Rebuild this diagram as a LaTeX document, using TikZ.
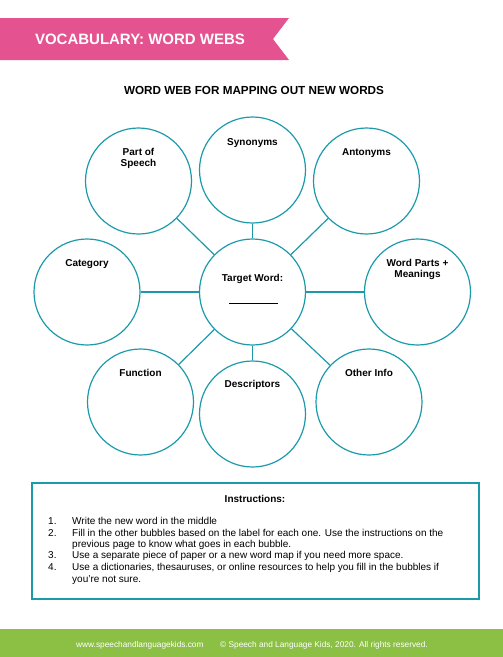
\documentclass[tikz,border=0pt]{standalone}
\usepackage{fontspec}
\setmainfont{Liberation Sans}
\definecolor{bannerpink}{HTML}{E55290}
\definecolor{webteal}{HTML}{1B9AAA}
\definecolor{footgreen}{HTML}{8BC045}
\begin{document}
\begin{tikzpicture}[x=1pt,y=-1pt,
  bubble/.style={circle,draw=webteal,line width=1.2pt,minimum size=106pt,inner sep=0pt},
  conn/.style={draw=webteal,line width=1.2pt},
  lbl/.style={font=\fontsize{10}{12}\selectfont\bfseries,anchor=base,inner sep=0pt},
  itxt/.style={font=\fontsize{10}{12}\selectfont,anchor=base west,inner sep=0pt},
  foot/.style={font=\fontsize{8.3}{10}\selectfont,text=white,anchor=base west,inner sep=0pt}]
\useasboundingbox (0,0) rectangle (503,657);
% banner
\fill[bannerpink] (0,18) -- (289,18) -- (273,39) -- (289,60) -- (0,60) -- cycle;
\node[text=white,font=\fontsize{15}{18}\selectfont\bfseries,anchor=base,inner sep=0pt] (banner) at (140,44.5) {VOCABULARY: WORD WEBS};
% title
\node[font=\fontsize{11.7}{14}\selectfont\bfseries,anchor=base,inner sep=0pt] (title) at (254,94.5) {WORD WEB FOR MAPPING OUT NEW WORDS};
% bubbles
\node[bubble] (target) at (252.5,292) {};
\node[bubble] (pos) at (138.5,181) {};
\node[bubble] (syn) at (252.5,170) {};
\node[bubble] (ant) at (366.5,181) {};
\node[bubble] (cat) at (87,292) {};
\node[bubble] (wp) at (417.5,292) {};
\node[bubble] (fun) at (140.5,402) {};
\node[bubble] (des) at (252.5,414) {};
\node[bubble] (oth) at (369,402) {};
% connectors
\foreach \b in {pos,syn,ant,cat,wp,fun,des,oth} \draw[conn] (target) -- (\b);
% labels
\node[lbl] (lpos1) at (138.5,155.3) {Part of};
\node[lbl] (lpos2) at (138.5,166.9) {Speech};
\node[lbl] (lsyn) at (252.5,145.3) {Synonyms};
\node[lbl] (lant) at (366.5,155.3) {Antonyms};
\node[lbl] (lcat) at (87,266.3) {Category};
\node[lbl] (ltar) at (252.5,281.3) {Target Word:};
\node[lbl] (ltarline) at (253.5,304) {\rule{49pt}{0.9pt}};
\node[lbl] (lwp1) at (417.5,266.3) {Word Parts +};
\node[lbl] (lwp2) at (417.5,277.9) {Meanings};
\node[lbl] (lfun) at (140.5,376.9) {Function};
\node[lbl] (ldes) at (252.5,387.9) {Descriptors};
\node[lbl] (loth) at (369,376.9) {Other Info};
% instructions box
\node[draw=webteal,line width=1.5pt,minimum width=447pt,minimum height=116pt,anchor=north west,inner sep=0pt] (box) at (31,482) {};
\node[lbl] (ihead) at (255,502.5) {Instructions:};
\node[itxt] (n1) at (48,524.6) {1.};
\node[itxt] (t1) at (72,524.6) {Write the new word in the middle};
\node[itxt] (n2) at (48,536.3) {2.};
\node[itxt] (t2a) at (72,536.3) {Fill in the other bubbles based on the label for each one. Use the instructions on the};
\node[itxt] (t2b) at (72,547.9) {previous page to know what goes in each bubble.};
\node[itxt] (n3) at (48,558.9) {3.};
\node[itxt] (t3) at (72,558.9) {Use a separate piece of paper or a new word map if you need more space.};
\node[itxt] (n4) at (48,570.9) {4.};
\node[itxt] (t4a) at (72,570.9) {Use a dictionaries, thesauruses, or online resources to help you fill in the bubbles if};
\node[itxt] (t4b) at (72,582.6) {you’re not sure.};
% footer
\fill[footgreen] (0,629) rectangle (503,657);
\node[foot] (web) at (76,647) {www.speechandlanguagekids.com};
\node[foot] (copy) at (220,647) {© Speech and Language Kids, 2020. All rights reserved.};
\end{tikzpicture}
\end{document}
